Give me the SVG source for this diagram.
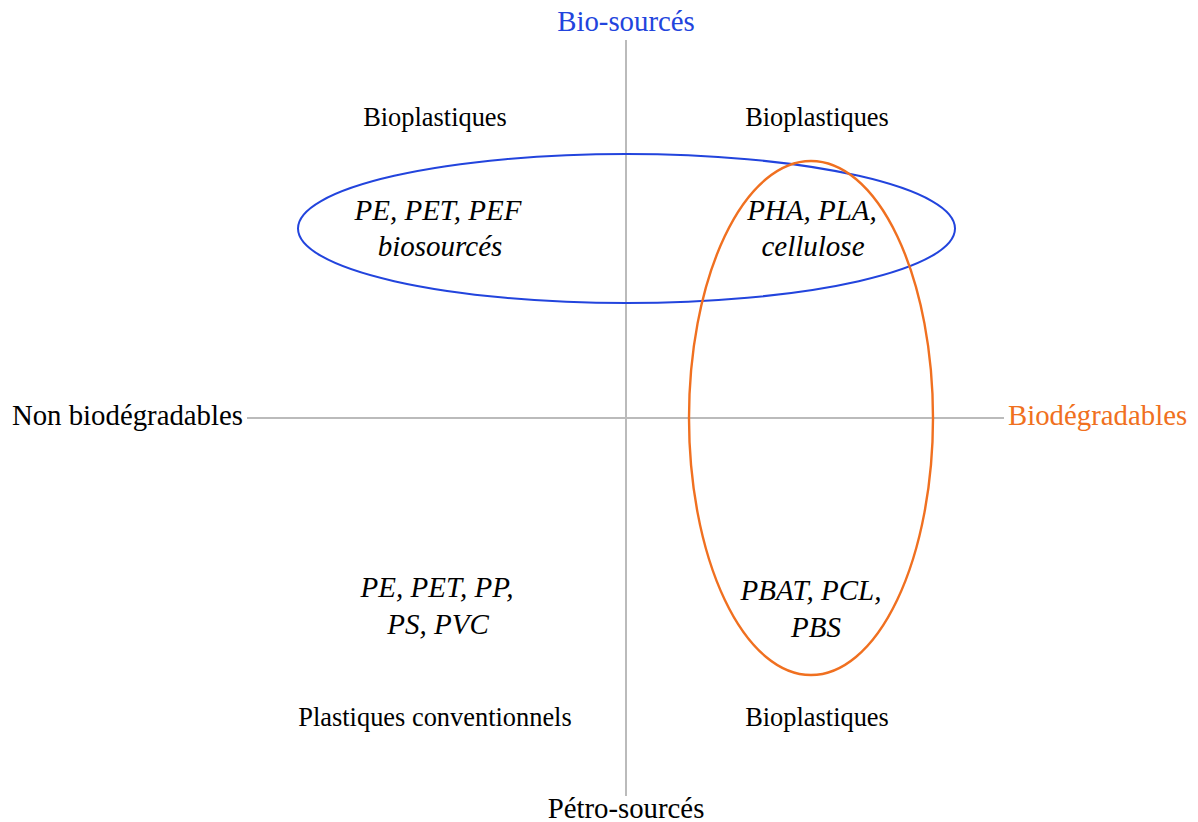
<svg xmlns="http://www.w3.org/2000/svg" width="1198" height="822" viewBox="0 0 1198 822">
<style>
.ax{stroke:#bbbbbb;stroke-width:2;fill:none}
.t{font-family:"Liberation Serif","Times New Roman",serif;font-size:26.4px;fill:#000;text-anchor:middle}
.i{font-style:italic;font-size:29px}
.al{font-family:"Liberation Serif","Times New Roman",serif;font-size:28.8px}
</style>
<rect width="1198" height="822" fill="#fff"/>
<g id="axes">
<line class="ax" x1="626" y1="40" x2="626" y2="796"/>
<line class="ax" x1="247" y1="418" x2="1004" y2="418"/>
</g>
<g id="axis-labels">
<text class="al" x="626" y="31" text-anchor="middle" fill="#2244dd">Bio-sourcés</text>
<text class="al" x="626" y="818" text-anchor="middle" fill="#000">Pétro-sourcés</text>
<text class="al" x="243" y="425" text-anchor="end" fill="#000">Non biodégradables</text>
<text class="al" x="1008" y="425" text-anchor="start" fill="#f07020">Biodégradables</text>
</g>
<g id="biosourced-ellipse">
<ellipse cx="626.5" cy="228.5" rx="328.5" ry="74.5" fill="none" stroke="#2244dd" stroke-width="2"/>
</g>
<g id="biodegradable-ellipse">
<ellipse cx="811" cy="418" rx="122" ry="257" fill="none" stroke="#f07020" stroke-width="2.4"/>
</g>
<g id="q-top-left">
<text class="t" x="435" y="126">Bioplastiques</text>
<text class="t i" x="438" y="220">PE, PET, PEF</text>
<text class="t i" x="440" y="256">biosourcés</text>
</g>
<g id="q-top-right">
<text class="t" x="817" y="126">Bioplastiques</text>
<text class="t i" x="812" y="220">PHA, PLA,</text>
<text class="t i" x="813" y="256">cellulose</text>
</g>
<g id="q-bottom-left">
<text class="t i" x="437" y="597">PE, PET, PP,</text>
<text class="t i" x="438" y="634">PS, PVC</text>
<text class="t" x="435" y="726">Plastiques conventionnels</text>
</g>
<g id="q-bottom-right">
<text class="t i" x="811" y="600">PBAT, PCL,</text>
<text class="t i" x="816" y="637">PBS</text>
<text class="t" x="817" y="726">Bioplastiques</text>
</g>
</svg>
